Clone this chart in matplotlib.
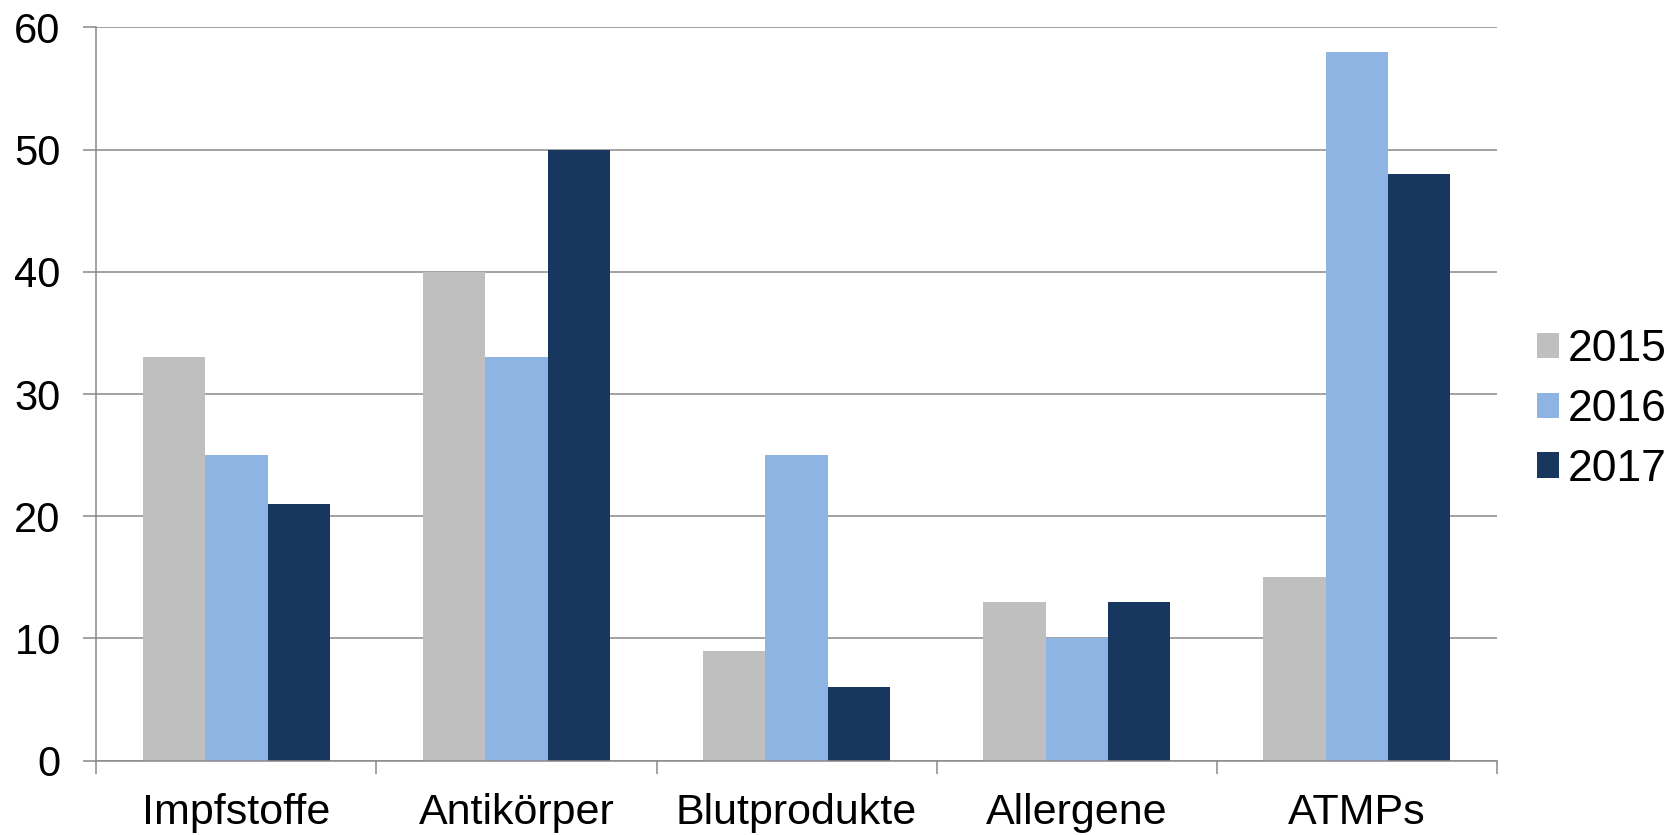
import numpy as np
import matplotlib
matplotlib.use("Agg")
import matplotlib.pyplot as plt
from matplotlib.ticker import FixedLocator

# ===== Data =====
categories = ["Impfstoffe", "Antikörper", "Blutprodukte", "Allergene", "ATMPs"]
years = ["2015", "2016", "2017"]
values_2015 = [33, 40, 9, 13, 15]
values_2016 = [25, 33, 25, 10, 58]
values_2017 = [21, 50, 6, 13, 48]
colors = ["#BFBFBF", "#8EB4E3", "#17375E"]
y_ticks = [0, 10, 20, 30, 40, 50, 60]

plt.rcParams['font.family'] = ['Liberation Sans', 'DejaVu Sans']
GRID = "#898989"

fig = plt.figure(figsize=(16.77, 8.35), dpi=100)
ax = fig.add_axes([0.0575, 0.0890, 0.835, 0.8781])

x = np.arange(len(categories))
width = 1 / 4.5
series = [values_2015, values_2016, values_2017]
for i, (vals, col, year) in enumerate(zip(series, colors, years)):
    ax.bar(x + (i - 1) * width, vals, width, color=col, label=year, zorder=3)

ax.set_xlim(-0.5, len(categories) - 0.5)
ax.set_ylim(0, 60)
ax.set_yticks(y_ticks)
ax.tick_params(axis='y', labelsize=30, length=9.7, width=1.1, color=GRID, pad=16)
ax.yaxis.grid(True, color=GRID, linewidth=1.1, zorder=0)

# category labels at the centres, separator ticks between groups
ax.set_xticks(x)
ax.set_xticklabels(categories)
ax.tick_params(axis='x', which='major', length=0, labelsize=31, pad=23)
ax.xaxis.set_minor_locator(FixedLocator(np.arange(-0.5, len(categories), 1.0)))
ax.tick_params(axis='x', which='minor', length=9, width=1.1, color=GRID)

for side in ["top", "right"]:
    ax.spines[side].set_visible(False)
for side in ["left", "bottom"]:
    ax.spines[side].set_color(GRID)
    ax.spines[side].set_linewidth(1.1)
    ax.spines[side].set_zorder(4)

ax.legend(loc="center left", bbox_to_anchor=(1.016, 0.479), frameon=False,
          fontsize=32, handlelength=0.5, handleheight=0.5,
          handletextpad=0.2, labelspacing=0.42, borderaxespad=0)

fig.savefig("out.png", dpi=100)
